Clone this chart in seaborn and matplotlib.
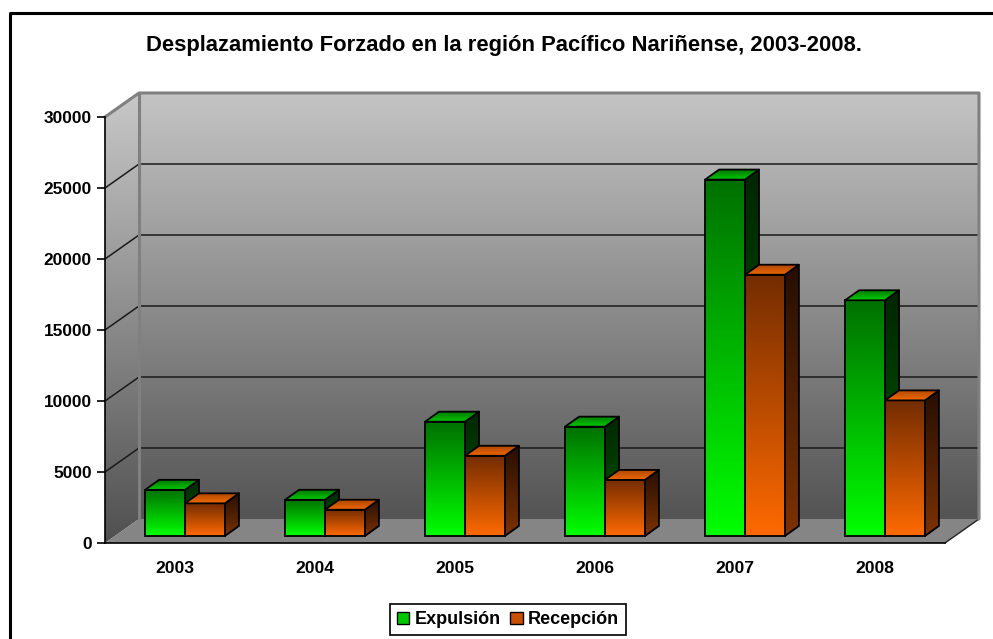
import numpy as np
import pandas as pd
import matplotlib
matplotlib.use("Agg")
import matplotlib.pyplot as plt
from matplotlib.patches import Polygon, Patch
import seaborn as sns

# ---- data ----
years = ["2003", "2004", "2005", "2006", "2007", "2008"]
expulsion = [3250, 2550, 8050, 7700, 25100, 16600]
recepcion = [2300, 1850, 5650, 3950, 18400, 9550]
series_names = ["Expulsión", "Recepción"]
y_ticks = [0, 5000, 10000, 15000, 20000, 25000, 30000]
title = "Desplazamiento Forzado en la región Pacífico Nariñense, 2003-2008."

df = pd.DataFrame({
    "Año": years * 2,
    "Valor": expulsion + recepcion,
    "Tipo": [series_names[0]] * len(years) + [series_names[1]] * len(years),
})

sns.set_theme(style="white")
plt.rcParams["font.family"] = ["Liberation Sans", "DejaVu Sans"]
plt.rcParams.update({"text.color": "black", "axes.labelcolor": "black",
                     "xtick.color": "black", "ytick.color": "black"})

W, H = 993, 639
fig = plt.figure(figsize=(W / 100, H / 100), dpi=100)
fig.patch.set_facecolor("white")

# geometry (pixels, y from top)
FX0, FX1, FY0, FY1 = 105, 945, 543, 117      # front plane of the plot
DX, DY = 34, -24                             # depth of the 3D box
BX, BY = 10, -7                              # bar plane offset from front
bdx, bdy = 14, -10                           # bar depth

def rect(x0, ybot, w, h):
    return [x0 / W, (H - ybot) / H, w / W, h / H]

bgax = fig.add_axes([0, 0, 1, 1], zorder=0)
bgax.set_xlim(0, W)
bgax.set_ylim(H, 0)
bgax.axis("off")

fax = fig.add_axes(rect(FX0, FY0, FX1 - FX0, FY0 - FY1), zorder=1)
ax = fig.add_axes(rect(FX0 + BX, FY0 + BY, FX1 - FX0, FY0 - FY1), zorder=2)

# ---- background box ----
def gradient(c_top, c_bot, n=256):
    t = np.linspace(0, 1, n)[:, None]
    c0 = np.array(c_top, float) / 255
    c1 = np.array(c_bot, float) / 255
    return (c0 + (c1 - c0) * t)[:, None, :]

# frame
bgax.plot([10, 10, W + 10], [H + 10, 13, 13], color="black", lw=2.2, clip_on=False)

wall_top, wall_bot = (196, 196, 196), (84, 84, 84)
bx0, bx1 = FX0 + DX, FX1 + DX
by_top, by_bot = FY1 + DY, FY0 + DY
img = bgax.imshow(gradient(wall_top, wall_bot), extent=(bx0, bx1, by_bot, by_top),
                  origin="upper", aspect="auto", zorder=1, interpolation="bilinear")
lw_poly = Polygon([(FX0, FY0), (FX0, FY1), (bx0, by_top), (bx0, by_bot)], closed=True,
                  facecolor="none", edgecolor="none")
bgax.add_patch(lw_poly)
img2 = bgax.imshow(gradient((200, 200, 200), (80, 80, 80)),
                   extent=(FX0, bx0, FY0, by_top), origin="upper", aspect="auto",
                   zorder=1, interpolation="bilinear")
img2.set_clip_path(lw_poly)
bgax.add_patch(Polygon([(FX0, FY0), (FX1, FY0), (bx1, by_bot), (bx0, by_bot)], closed=True,
                       facecolor="#858585", edgecolor="none", zorder=2))
bgax.plot([FX1, bx1], [FY0, by_bot], color="#222222", lw=1, zorder=3)

scale = (FY0 - FY1) / (y_ticks[-1] - y_ticks[0])
for v in y_ticks[1:-1]:
    yf = FY0 - v * scale
    bgax.plot([FX0, bx0, bx1], [yf, yf + DY, yf + DY], color="#1a1a1a", lw=1.1, zorder=3)
edge = "#808080"
bgax.plot([FX0, bx0, bx1, bx1], [FY1, by_top, by_top, by_bot], color=edge, lw=2.2, zorder=4)
bgax.plot([bx0, bx0], [by_top, by_bot], color=edge, lw=2.2, zorder=4)

# ---- front axis ----
fax.patch.set_alpha(0)
fax.set_xlim(-0.5, len(years) - 0.5)
fax.set_ylim(y_ticks[0], y_ticks[-1])
for s in ["top", "right"]:
    fax.spines[s].set_visible(False)
for s in ["left", "bottom"]:
    fax.spines[s].set_color("black")
    fax.spines[s].set_linewidth(1.2)
fax.set_yticks(y_ticks)
fax.set_yticklabels([str(v) for v in y_ticks], fontsize=12.4, fontweight="bold", color="black")
fax.set_xticks(range(len(years)))
fax.set_xticklabels(years, fontsize=12.6, fontweight="bold", color="black")
fax.set_xticks(np.arange(-0.5, len(years), 1.0), minor=True)
fax.tick_params(axis="x", which="major", length=0, pad=13)
fax.tick_params(axis="x", which="minor", length=7, width=1.2, color="black", direction="out")
fax.tick_params(axis="y", length=6, width=1.2, color="black", direction="out", pad=3.5, left=True)
fax.set_xlabel("")
fax.set_ylabel("")

# ---- bars ----
sns.barplot(data=df, x="Año", y="Valor", hue="Tipo", order=years, hue_order=series_names,
            palette=["#00cc00", "#cc5200"], width=0.57, legend=False, ax=ax,
            edgecolor="black", linewidth=1.3)
ax.set_xlim(-0.5, len(years) - 0.5)
ax.set_ylim(y_ticks[0], y_ticks[-1])
ax.axis("off")
ax.patch.set_alpha(0)

ux = (len(years)) / (FX1 - FX0)                  # data per pixel (x)
uy = (y_ticks[-1] - y_ticks[0]) / (FY0 - FY1)    # data per pixel (y)
ddx, ddy = bdx * ux, -bdy * uy

styles = {
    0: dict(front=((0, 112, 0), (0, 255, 0)), side=((0, 38, 0), (0, 95, 0)),
            top=((0, 120, 0), (0, 205, 0))),
    1: dict(front=((115, 44, 0), (255, 106, 0)), side=((38, 14, 0), (125, 50, 0)),
            top=((175, 72, 0), (240, 104, 0))),
}

def grad_fill(verts, c_top, c_bot, z, patch=None):
    if patch is None:
        patch = Polygon(verts, closed=True, facecolor="none", edgecolor="black",
                        lw=1.3, zorder=z + 1, joinstyle="round")
        ax.add_patch(patch)
    xs = [p[0] for p in verts]
    ys = [p[1] for p in verts]
    im = ax.imshow(gradient(c_top, c_bot), extent=(min(xs), max(xs), min(ys), max(ys)),
                   origin="upper", aspect="auto", zorder=z, interpolation="bilinear")
    im.set_clip_path(patch)
    patch.set_clip_on(False)
    im.set_clip_on(True)

bars = list(ax.patches)
n = len(years)
order = []
for i in range(n):
    for j in range(2):
        order.append((bars[j * n + i], j))

z = 10
for p, j in order:
    st = styles[j]
    x0, w, h = p.get_x(), p.get_width(), p.get_height()
    x1 = x0 + w
    p.set_facecolor("none")
    p.set_zorder(z + 1)
    p.set_clip_on(False)
    grad_fill([(x0, 0), (x1, 0), (x1, h), (x0, h)], *st["front"], z, patch=p)
    grad_fill([(x1, 0), (x1 + ddx, ddy), (x1 + ddx, h + ddy), (x1, h)], *st["side"], z + 2)
    grad_fill([(x0, h), (x1, h), (x1 + ddx, h + ddy), (x0 + ddx, h + ddy)],
              st["top"][0], st["top"][1], z + 4)
    z += 10

ax.set_xlim(-0.5, len(years) - 0.5)
ax.set_ylim(y_ticks[0], y_ticks[-1])

# ---- title & legend ----
fig.text(504 / W, 1 - 45 / H, title, ha="center", va="center", fontsize=15.8,
         fontweight="bold", color="black")
handles = [Patch(facecolor="#00c800", edgecolor="black", linewidth=1),
           Patch(facecolor="#c85000", edgecolor="black", linewidth=1)]
leg = fig.legend(handles, series_names, loc="upper center",
                 bbox_to_anchor=(508 / W, 1 - 604 / H), ncol=2, frameon=True,
                 fancybox=False, edgecolor="black", framealpha=1,
                 prop={"weight": "bold", "size": 13}, handlelength=0.7,
                 handleheight=0.7, handletextpad=0.3, columnspacing=0.5,
                 borderpad=0.4, borderaxespad=0)
leg.get_frame().set_linewidth(1.2)
for t in leg.get_texts():
    t.set_color("black")

fig.savefig("out.png", dpi=100)
